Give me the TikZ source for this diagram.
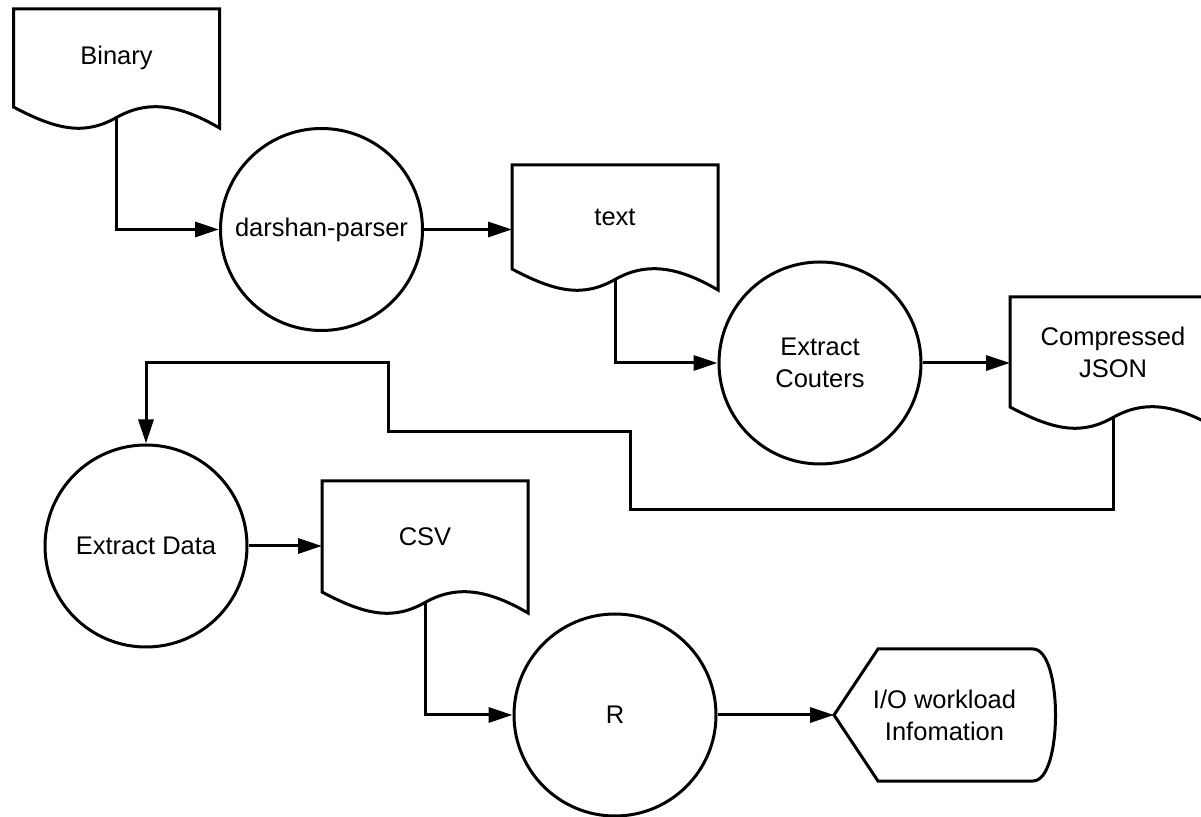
\documentclass[tikz,border=0pt]{standalone}
\usepackage{fontspec}
\setmainfont{Liberation Sans}
\usetikzlibrary{arrows.meta}

% outline of a document node: straight top and sides, wavy bottom
\newcommand{\docshape}[1]{%
  \draw (#1.south west) -- (#1.north west) -- (#1.north east) -- ([yshift=-21pt]#1.south east)
    .. controls ([shift={(165,3)}]#1.south west) and ([shift={(134,7)}]#1.south west) .. ([shift={(103,-10.5)}]#1.south west)
    .. controls ([shift={(72,-28)}]#1.south west) and ([shift={(45,-24)}]#1.south west) .. (#1.south west) -- cycle;
  \coordinate (#1-tail) at ([yshift=-10.5pt]#1.south);
}

\begin{document}
\begin{tikzpicture}[x=1pt, y=1pt, line width=3pt,
    font=\fontsize{25.5}{32}\selectfont,
    proc/.style={draw, circle, minimum size=202pt, inner sep=0pt, align=center},
    doc/.style={rectangle, minimum width=206pt, minimum height=104pt, inner sep=0pt, outer sep=0pt, align=center},
    outp/.style={rectangle, minimum width=221pt, minimum height=132pt, inner sep=0pt, outer sep=0pt, align=center},
    flow/.style={-{Triangle[length=24pt, width=15pt]}}]
  \useasboundingbox (0,0) rectangle (1201,816);

  \node[doc, minimum height=98pt] (bin) at (116.5, 758) {Binary};
  \node[proc] (dp) at (321.5, 586.5) {darshan-parser};
  \node[doc] (txt) at (615, 599) {text};
  \node[proc] (ec) at (820, 453) {Extract\\Couters};
  \node[doc, minimum height=110pt] (json) at (1113, 464) {Compressed\\JSON};
  \node[proc] (ed) at (146, 270) {Extract Data};
  \node[doc, minimum height=111pt] (csv) at (425, 279.5) {CSV};
  \node[proc] (r) at (615, 101) {R};
  \node[outp] (info) at (944.5, 101) {I/O workload\\Infomation};

  \docshape{bin}
  \docshape{txt}
  \docshape{json}
  \docshape{csv}
  \draw (info.west) -- ([xshift=44pt]info.north west) -- ([xshift=-22pt]info.north east)
    .. controls ([xshift=8pt]info.north east) and ([xshift=8pt]info.south east) .. ([xshift=-22pt]info.south east)
    -- ([xshift=44pt]info.south west) -- cycle;

  \draw[flow] (bin-tail) |- (dp.west);
  \draw[flow] (dp) -- (dp -| txt.west);
  \draw[flow] (txt-tail) |- (ec.west);
  \draw[flow] (ec) -- (ec -| json.west);
  \draw[flow] (json-tail) |- (630, 306) |- (388, 384) |- (146, 453) -- (ed.north);
  \draw[flow] (ed) -- (ed -| csv.west);
  \draw[flow] (csv-tail) |- (r.west);
  \draw[flow] (r) -- (r -| info.west);
\end{tikzpicture}
\end{document}
